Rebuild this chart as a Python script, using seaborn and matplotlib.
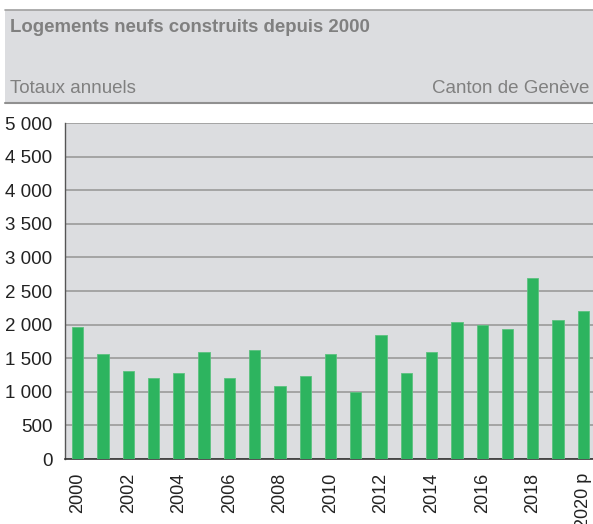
import matplotlib
matplotlib.use("Agg")
import matplotlib.pyplot as plt
import seaborn as sns
import pandas as pd
from matplotlib.patches import Rectangle
from matplotlib.lines import Line2D
from matplotlib.ticker import FuncFormatter, FixedLocator

years = [str(y) for y in range(2000, 2021)]
values = [1960, 1560, 1305, 1210, 1280, 1585, 1210, 1615, 1080, 1235, 1560,
          1000, 1840, 1280, 1585, 2040, 1990, 1940, 2700, 2065, 2195]
tick_labels = ["2000", "", "2002", "", "2004", "", "2006", "", "2008", "", "2010",
               "", "2012", "", "2014", "", "2016", "", "2018", "", "2020 p"]

title = "Logements neufs construits depuis 2000"
subtitle_left = "Totaux annuels"
subtitle_right = "Canton de Genève"

sns.set_style("white")
plt.rcParams['font.family'] = ['Liberation Sans', 'DejaVu Sans']

bg = "#dcdde0"
green = "#2db45f"
grid_c = "#9a9a9a"
text_c = "#808080"

fig = plt.figure(figsize=(5.93, 5.24), dpi=100)
ax = fig.add_axes([65/593, 1 - 459/524, 531/593, 336/524])
ax.set_facecolor(bg)

df = pd.DataFrame({"year": years, "value": values})
sns.barplot(data=df, x="year", y="value", color=green, width=0.45,
            saturation=1, ax=ax, zorder=3, edgecolor="#5cc27f", linewidth=0.6)

ax.set_xlim(-0.5, 20.5)
ax.set_ylim(0, 5000)
ax.set_yticks(range(0, 5001, 500))
ax.yaxis.set_major_formatter(FuncFormatter(lambda v, p: f"{int(v):,}".replace(",", " ")))
ax.grid(axis="y", color=grid_c, linewidth=1.2, zorder=0)
ax.set_axisbelow(True)
for s in ["top", "right"]:
    ax.spines[s].set_visible(False)
ax.spines["left"].set_color("#555555")
ax.spines["bottom"].set_color("#333333")
ax.spines["left"].set_linewidth(1.0)
ax.spines["bottom"].set_linewidth(1.2)

ax.set_xticks(range(len(years)))
ax.set_xticklabels(tick_labels, rotation=90, fontsize=13, color="#222222")
ax.tick_params(axis="x", which="major", length=0, pad=10)
ax.xaxis.set_minor_locator(FixedLocator([i - 0.5 for i in range(len(years) + 1)]))
ax.tick_params(axis="x", which="minor", length=6, width=1, color="#333333", direction="out")
ax.tick_params(axis="y", which="major", length=6, width=1, color="#555555", labelsize=13.5,
               labelcolor="#222222", pad=3)
ax.set_xlabel("")
ax.set_ylabel("")

# header box
fig.patches.append(Rectangle((5/593, 1 - 103/524), 588/593, 93/524,
                             transform=fig.transFigure, facecolor=bg,
                             edgecolor="none", zorder=0))
fig.lines.append(Line2D([5/593, 1], [1 - 10/524, 1 - 10/524], transform=fig.transFigure,
                        color="#a0a0a0", linewidth=1.2))
fig.lines.append(Line2D([5/593, 1], [1 - 103/524, 1 - 103/524], transform=fig.transFigure,
                        color="#909090", linewidth=1.5))

fig.text(10/593, 1 - 27/524, title, fontsize=13.4, fontweight="bold", color=text_c,
         ha="left", va="center")
fig.text(10/593, 1 - 88/524, subtitle_left, fontsize=13.5, color=text_c, ha="left", va="center")
fig.text(589/593, 1 - 88/524, subtitle_right, fontsize=13.5, color=text_c, ha="right", va="center")

fig.savefig("out.png", dpi=100, facecolor="white")
